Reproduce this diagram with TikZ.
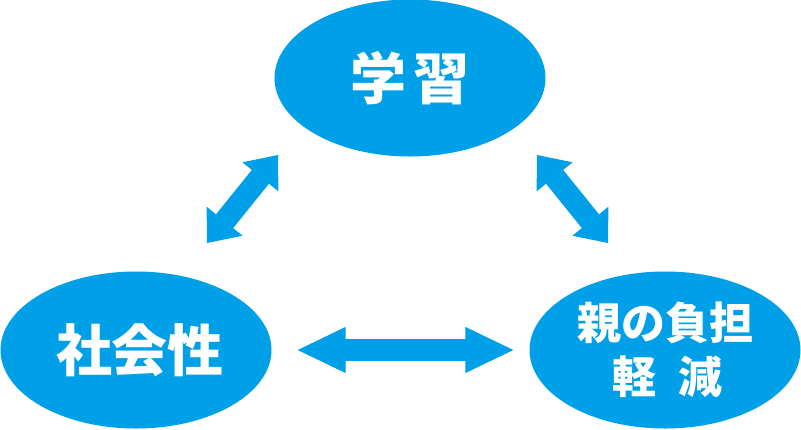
\documentclass[tikz,border=0pt]{standalone}
\usepackage{fontspec}
\newfontfamily\cjk{Noto Sans CJK JP}
\usetikzlibrary{shapes.geometric,arrows.meta}
\definecolor{bub}{HTML}{00A0E9}
\begin{document}
\begin{tikzpicture}[x=1pt,y=-1pt,
  bubble/.style={ellipse,fill=bub,draw=none,inner sep=0pt,
    minimum width=271pt,minimum height=157pt,text=white,align=center},
  bigtext/.style={font=\cjk\bfseries\fontsize{56pt}{62pt}\selectfont},
  smalltext/.style={font=\cjk\bfseries\fontsize{44pt}{54pt}\selectfont},
  link/.style={draw=bub,line width=22pt,line cap=butt,{Triangle[length=28pt,width=46pt,line width=1pt]}-{Triangle[length=28pt,width=46pt,line width=1pt]}},
  hlink/.style={draw=bub,line width=22pt,line cap=butt,{Triangle[length=48pt,width=46pt,line width=1pt]}-{Triangle[length=48pt,width=46pt,line width=1pt]}}]
\useasboundingbox (0,0) rectangle (801,429);
\node[bubble,bigtext] (study) at (410,78) {学\hspace{8pt}習};
\node[bubble,bigtext] (social) at (136,350) {\hspace{8pt}社会性};
\node[bubble,smalltext] (parent) at (665,350) {親の負担\\\hspace{4pt}軽\hspace{22pt}減};
\coordinate (l1) at (278,155);
\coordinate (l2) at (207,243);
\coordinate (r1) at (537,155);
\coordinate (r2) at (608,243);
\draw[link] (l1) -- (l2);
\draw[link] (r1) -- (r2);
\draw[hlink,shorten <=26pt,shorten >=16pt] (social.east) -- (parent.west);
\end{tikzpicture}
\end{document}
